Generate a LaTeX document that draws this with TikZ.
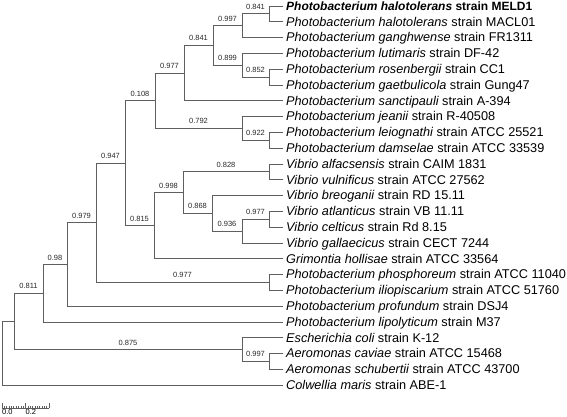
\documentclass[tikz,border=0pt]{standalone}
\usepackage{fontspec}
\setmainfont{Liberation Sans}
\begin{document}
\begin{tikzpicture}[x=1pt,y=-1pt,
  branch/.style={draw={rgb,255:red,95;green,95;blue,95}, line width=0.9pt, line cap=rect},
  sup/.style={font=\fontsize{7.5}{8}\selectfont, text={rgb,255:red,40;green,40;blue,40}, anchor=south, inner sep=0pt, yshift=4pt},
  tiplabel/.style={font=\fontsize{12.7}{14}\selectfont, anchor=base west, inner sep=0pt, yshift=-4.3pt},
  tick/.style={draw={rgb,255:red,95;green,95;blue,95}, line width=0.6pt}]
\useasboundingbox (0,0) rectangle (567,417);
% leaf tips
\foreach \i/\yy in {0/6,1/21.8,2/37.6,3/53.4,4/69.2,5/85,6/100.8,7/116.6,8/132.4,9/148.2,10/164,11/179.8,12/195.6,13/211.4,14/227.2,15/243,16/258.8,17/274.6,18/290.4,19/306.2,20/322,21/337.8,22/353.6,23/369.4,24/385.2}
  \coordinate (l\i) at (283,\yy);
% labels
\node[tiplabel, font=\fontsize{12}{14}\selectfont] (n0) at ([xshift=3pt]l0) {\bfseries\itshape Photobacterium halotolerans\upshape{} strain MELD1};
\node[tiplabel] (n1) at ([xshift=3pt]l1) {\itshape Photobacterium halotolerans\upshape{} strain MACL01};
\node[tiplabel] (n2) at ([xshift=3pt]l2) {\itshape Photobacterium ganghwense\upshape{} strain FR1311};
\node[tiplabel] (n3) at ([xshift=3pt]l3) {\itshape Photobacterium lutimaris\upshape{} strain DF-42};
\node[tiplabel] (n4) at ([xshift=3pt]l4) {\itshape Photobacterium rosenbergii\upshape{} strain CC1};
\node[tiplabel] (n5) at ([xshift=3pt]l5) {\itshape Photobacterium gaetbulicola\upshape{} strain Gung47};
\node[tiplabel] (n6) at ([xshift=3pt]l6) {\itshape Photobacterium sanctipauli\upshape{} strain A-394};
\node[tiplabel] (n7) at ([xshift=3pt]l7) {\itshape Photobacterium jeanii\upshape{} strain R-40508};
\node[tiplabel] (n8) at ([xshift=3pt]l8) {\itshape Photobacterium leiognathi\upshape{} strain ATCC 25521};
\node[tiplabel] (n9) at ([xshift=3pt]l9) {\itshape Photobacterium damselae\upshape{} strain ATCC 33539};
\node[tiplabel] (n10) at ([xshift=3pt]l10) {\itshape Vibrio alfacsensis\upshape{} strain CAIM 1831};
\node[tiplabel] (n11) at ([xshift=3pt]l11) {\itshape Vibrio vulnificus\upshape{} strain ATCC 27562};
\node[tiplabel] (n12) at ([xshift=3pt]l12) {\itshape Vibrio breoganii\upshape{} strain RD 15.11};
\node[tiplabel] (n13) at ([xshift=3pt]l13) {\itshape Vibrio atlanticus\upshape{} strain VB 11.11};
\node[tiplabel] (n14) at ([xshift=3pt]l14) {\itshape Vibrio celticus\upshape{} strain Rd 8.15};
\node[tiplabel] (n15) at ([xshift=3pt]l15) {\itshape Vibrio gallaecicus\upshape{} strain CECT 7244};
\node[tiplabel] (n16) at ([xshift=3pt]l16) {\itshape Grimontia hollisae\upshape{} strain ATCC 33564};
\node[tiplabel] (n17) at ([xshift=3pt]l17) {\itshape Photobacterium phosphoreum\upshape{} strain ATCC 11040};
\node[tiplabel] (n18) at ([xshift=3pt]l18) {\itshape Photobacterium iliopiscarium\upshape{} strain ATCC 51760};
\node[tiplabel] (n19) at ([xshift=3pt]l19) {\itshape Photobacterium profundum\upshape{} strain DSJ4};
\node[tiplabel] (n20) at ([xshift=3pt]l20) {\itshape Photobacterium lipolyticum\upshape{} strain M37};
\node[tiplabel] (n21) at ([xshift=3pt]l21) {\itshape Escherichia coli\upshape{} strain K-12};
\node[tiplabel] (n22) at ([xshift=3pt]l22) {\itshape Aeromonas caviae\upshape{} strain ATCC 15468};
\node[tiplabel] (n23) at ([xshift=3pt]l23) {\itshape Aeromonas schubertii\upshape{} strain ATCC 43700};
\node[tiplabel] (n24) at ([xshift=3pt]l24) {\itshape Colwellia maris\upshape{} strain ABE-1};
% internal nodes
\coordinate (A) at (269,13.9);
\coordinate (B) at (242,25.75);
\coordinate (C) at (269,77.1);
\coordinate (D) at (242,65.25);
\coordinate (E) at (213,45.5);
\coordinate (F) at (184,73.15);
\coordinate (H) at (269,140.3);
\coordinate (J) at (242,128.45);
\coordinate (G) at (155,100.8);
\coordinate (L) at (269,171.9);
\coordinate (P) at (269,219.3);
\coordinate (O) at (242,231.15);
\coordinate (N) at (212,213.4);
\coordinate (M) at (183,192.65);
\coordinate (Q) at (154,225.7);
\coordinate (K) at (125,163.25);
\coordinate (S) at (269,282.5);
\coordinate (R) at (96,222.9);
\coordinate (T) at (67,264.55);
\coordinate (U) at (43,293.3);
\coordinate (W) at (269,361.5);
\coordinate (V) at (242,349.65);
\coordinate (X) at (14,321.5);
\coordinate (Root) at (2,353.3);
% branches
\draw[branch] (A) |- (l0); \draw[branch] (A) |- (l1);
\draw[branch] (B) |- (A) node[sup,pos=0.75]{0.841};
\draw[branch] (B) |- (l2);
\draw[branch] (C) |- (l4); \draw[branch] (C) |- (l5);
\draw[branch] (D) |- (l3);
\draw[branch] (D) |- (C) node[sup,pos=0.75]{0.852};
\draw[branch] (E) |- (B) node[sup,pos=0.75]{0.997};
\draw[branch] (E) |- (D) node[sup,pos=0.75]{0.899};
\draw[branch] (F) |- (E) node[sup,pos=0.75]{0.841};
\draw[branch] (F) |- (l6);
\draw[branch] (H) |- (l8); \draw[branch] (H) |- (l9);
\draw[branch] (J) |- (l7);
\draw[branch] (J) |- (H) node[sup,pos=0.75]{0.922};
\draw[branch] (G) |- (F) node[sup,pos=0.75]{0.977};
\draw[branch] (G) |- (J) node[sup,pos=0.75]{0.792};
\draw[branch] (L) |- (l10); \draw[branch] (L) |- (l11);
\draw[branch] (P) |- (l13); \draw[branch] (P) |- (l14);
\draw[branch] (O) |- (P) node[sup,pos=0.75]{0.977};
\draw[branch] (O) |- (l15);
\draw[branch] (N) |- (l12);
\draw[branch] (N) |- (O) node[sup,pos=0.75]{0.936};
\draw[branch] (M) |- (L) node[sup,pos=0.75]{0.828};
\draw[branch] (M) |- (N) node[sup,pos=0.75]{0.868};
\draw[branch] (Q) |- (M) node[sup,pos=0.75]{0.998};
\draw[branch] (Q) |- (l16);
\draw[branch] (K) |- (G) node[sup,pos=0.75]{0.108};
\draw[branch] (K) |- (Q) node[sup,pos=0.75]{0.815};
\draw[branch] (S) |- (l17); \draw[branch] (S) |- (l18);
\draw[branch] (R) |- (K) node[sup,pos=0.75]{0.947};
\draw[branch] (R) |- (S) node[sup,pos=0.75]{0.977};
\draw[branch] (T) |- (R) node[sup,pos=0.75]{0.979};
\draw[branch] (T) |- (l19);
\draw[branch] (U) |- (T) node[sup,pos=0.75]{0.98};
\draw[branch] (U) |- (l20);
\draw[branch] (W) |- (l22); \draw[branch] (W) |- (l23);
\draw[branch] (V) |- (l21);
\draw[branch] (V) |- (W) node[sup,pos=0.75]{0.997};
\draw[branch] (X) |- (U) node[sup,pos=0.75]{0.811};
\draw[branch] (X) |- (V) node[sup,pos=0.75]{0.875};
\draw[branch] (Root) |- (X);
\draw[branch] (Root) |- (l24);
% scale bar
\coordinate (s0) at (2,408);
\coordinate (s1) at (49,408);
\draw[tick] (s0) -- (s1);
\foreach \k in {0,...,20} {
  \pgfmathsetmacro{\xx}{2+2.35*\k}
  \ifnum\k=0 \draw[tick] (\xx,408) -- (\xx,403);
  \else\ifnum\k=10 \draw[tick] (\xx,408) -- (\xx,403);
  \else\ifnum\k=20 \draw[tick] (\xx,408) -- (\xx,403);
  \else \draw[tick] (\xx,408) -- (\xx,405.5);
  \fi\fi\fi
}
\node[font=\fontsize{7.5}{8}\selectfont, anchor=north west, inner sep=0pt] (sl0) at (2,409.5) {0.0};
\node[font=\fontsize{7.5}{8}\selectfont, anchor=north west, inner sep=0pt] (sl1) at (25.5,409.5) {0.2};
\end{tikzpicture}
\end{document}
